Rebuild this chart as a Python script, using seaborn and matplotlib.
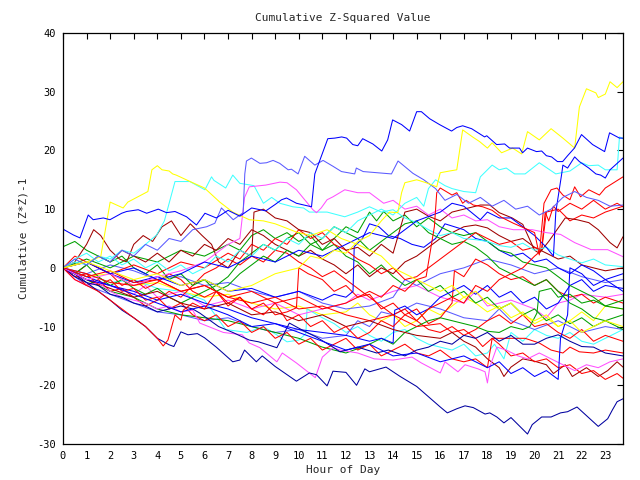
import matplotlib
matplotlib.use("Agg")
import matplotlib.pyplot as plt
import pandas as pd
import seaborn as sns

# ---------------- data: (hour, cumulative value) ----------------
blue_top = [(0,6.6),(0.44,5.6),(0.72,5.1),(1.07,9.0),(1.28,8.2),(1.71,8.5),(1.99,8.2),(2.49,9.3),(2.7,9.6),(3.19,9.9),(3.55,9.3),(4.04,10.0),(4.39,9.4),(4.75,9.6),(5.24,8.7),(5.66,7.3),(6.02,9.3),(6.5,8.5),(7.0,9.8),(7.5,8.8),(8.0,10.2),(8.6,9.7),(9.0,10.8),(9.27,11.6),(9.48,11.9),(9.9,11.0),(10.54,10.4),(10.68,16.0),(11.23,22.0),(11.53,22.1),(11.82,22.3),(12.03,22.1),(12.29,21.0),(12.5,20.8),(12.71,22.0),(13.14,21.1),(13.52,19.9),(13.77,21.8),(13.98,25.2),(14.36,24.4),(14.7,23.3),(15.0,26.6),(15.2,26.6),(15.55,25.4),(15.97,24.4),(16.48,23.3),(16.7,23.9),(16.95,24.2),(17.33,23.7),(17.88,22.3),(17.97,22.5),(18.39,21.0),(18.73,21.1),(18.94,20.4),(19.36,20.4),(19.49,19.6),(19.7,20.4),(20.08,19.8),(20.3,19.9),(20.5,19.1),(20.72,18.9),(20.97,18.1),(21.19,18.1),(21.4,19.1),(21.69,20.4),(21.99,22.7),(22.46,21.0),(22.97,19.8),(23.18,23.0),(23.6,22.1),(23.75,22.1)]
blue_mid = [(0,0),(0.5,1.5),(1,0.5),(1.5,2),(2,1),(2.5,3),(3,2),(3.5,4),(4,3),(4.5,5),(5,4.5),(5.5,6.5),(6.09,7),(6.44,7.6),(6.72,10.2),(7.22,8.2),(7.64,9.4),(7.71,16.0),(7.78,18.2),(7.99,18.7),(8.35,17.8),(8.63,17.9),(8.91,18.3),(9.19,17.8),(9.55,16.7),(9.69,16.8),(9.97,16.0),(10.25,19.0),(10.68,17.5),(11.03,18.3),(11.45,17.3),(11.81,16.4),(12.37,16.0),(12.44,17.0),(12.73,16.4),(13.93,16.0),(14.21,18.2),(14.84,16.1),(15.3,15),(15.8,13.5),(16.2,11.5),(16.7,12.5),(17.2,11),(17.7,12),(18.2,10.5),(18.7,11.5),(19.2,10),(19.7,10.5),(20.2,9),(20.7,10),(21.2,12),(21.7,13),(22.2,12),(22.7,11.5),(23.2,10.5),(23.75,10.7)]
blue_jump21 = [(0,0),(1,1),(2,-1),(3,0),(4,-2),(5,-1),(6,1),(7,0),(8,2),(9,1),(10,3),(11,2),(12,4),(13,6),(14,5),(15,8),(16,9.5),(16.5,11),(17,10.5),(17.7,8.2),(18,9.5),(18.5,8.5),(19,8.5),(19.5,7),(20,5.5),(20.5,3.5),(20.8,2),(20.9,9.5),(21.15,16),(21.2,17.5),(21.4,17),(21.7,18.9),(21.9,18.1),(22.3,17),(22.6,16),(22.8,15.8),(23.0,15.3),(23.2,16.7),(23.75,18.7)]
blue_jump14 = [(0,0),(1,-1.5),(2,-3),(3,-4),(4,-5.5),(5,-4.5),(6,-6),(7,-7),(8,-8.5),(9,-9.5),(10,-10.5),(11,-11),(12,-11.5),(13,-12.5),(13.5,-12),(14,-12.8),(14.07,-7.2),(14.5,-6.5),(15,-8),(15.5,-7),(16,-5),(16.5,-4),(17,-3),(17.5,-4.5),(18,-3),(18.5,-5),(19,-4),(19.5,-6),(20,-5),(20.5,-7),(21,-6),(21.5,-3),(22,-2),(22.5,-4),(23,-3),(23.75,-3.5)]
blue_late = [(0,0),(1,-2),(2,-3),(3,-4.5),(4,-6),(5,-7.5),(6,-6.5),(7,-8),(8,-10),(9,-9.5),(10,-11),(11,-12.5),(12,-14),(13,-13),(14,-15),(15,-14.5),(16,-16),(17,-15),(18,-17),(18.5,-16),(19,-18),(19.5,-17),(20,-18.5),(20.5,-17.5),(21,-19),(21.1,-12),(21.4,-8),(21.5,0),(22,-1),(22.5,-3),(23,-2),(23.75,-4)]
blue_step12 = [(0,0),(1,1),(2,-1),(3,-2.5),(4,-1.5),(5,-3),(6,-2),(7,-4),(8,-3.5),(9,-5),(10,-4),(11,-5.5),(11.5,-4.5),(12,-5),(12.3,-4),(12.35,3.6),(12.7,5),(13,7.5),(13.4,7),(13.8,5.5),(14.3,5),(14.8,4),(15.3,3.5),(15.8,5),(16.2,7.5),(16.6,7),(17,6.5),(17.5,5),(18,4.5),(18.5,3),(19,2),(19.5,2.5),(20,1),(20.5,1.5),(21,0),(21.5,-1),(22,0.5),(22.5,-0.5),(23,-2),(23.75,-1)]
mblue_2 = [(0,0),(1,-1),(2,0.5),(3,-0.5),(4,-2),(5,-1.5),(6,-3),(7,-2.5),(8,-4),(9,-5),(10,-4),(11,-6),(12,-7),(13,-6.5),(14,-5),(14.5,-2),(15,-3),(16,-1),(17,0),(18,1.5),(19,0.5),(20,-1),(21,0),(22,-1.5),(23,-2.5),(23.75,-2)]
mblue_3 = [(0,0),(1,-3),(2,-4.5),(3,-6),(4,-7.5),(5,-8),(6,-9),(7,-8.5),(8,-10),(9,-11),(10,-10.5),(11,-12),(12,-11.5),(12.5,-9),(13,-10),(13.5,-7.5),(14,-8),(15,-6),(16,-7),(17,-8.5),(18,-9),(18.5,-7),(19,-9),(20,-10.5),(21,-9),(22,-11),(23,-10),(23.75,-10.5)]
dblue_bottom = [(0,0),(0.5,-1.5),(1,-2.5),(1.5,-4),(2,-5.5),(2.5,-7.2),(3,-8.5),(3.5,-10),(4,-12),(4.5,-13.1),(4.7,-13.4),(5.0,-10.9),(5.3,-11.4),(5.7,-11.2),(6.0,-11.9),(6.5,-13.5),(7.2,-16),(7.5,-15.7),(7.7,-14),(8.2,-16),(8.45,-15),(9.0,-16.8),(9.9,-19.3),(10.45,-17.9),(10.75,-18.2),(11.2,-20.1),(11.45,-17.6),(12.0,-17.8),(12.45,-20),(12.8,-17.2),(13.0,-17.7),(13.7,-16.9),(14.3,-18.5),(15.0,-20.2),(16.0,-23.7),(16.3,-24.7),(16.7,-24),(17.05,-23.5),(17.4,-23.8),(17.9,-24.9),(18.1,-24.7),(18.4,-25.4),(18.7,-26.4),(19.0,-25.5),(19.7,-28.3),(19.9,-26.7),(20.3,-25.4),(20.7,-25.4),(21.1,-24.7),(21.4,-24.5),(21.8,-23.7),(22.7,-27),(23.1,-25.7),(23.3,-24.2),(23.5,-22.8),(23.75,-22.3)]
dblue_2 = [(0,0),(0.5,-1),(1,-2.5),(1.5,-3),(2,-4.5),(2.5,-5),(3,-6),(3.5,-6.5),(4,-7.5),(4.5,-7),(5,-6.5),(5.5,-7),(5.8,-7.7),(6.6,-10),(7.2,-11),(7.9,-12.3),(8.3,-12.6),(9.07,-13.6),(9.6,-9.4),(10.15,-10.6),(10.75,-11.8),(11.45,-13.5),(11.75,-14.3),(12.5,-13.5),(13.3,-14.5),(13.8,-14),(14.5,-15),(15,-14),(15.5,-13.5),(16,-12.5),(16.5,-13),(17,-11.5),(17.5,-12),(18,-11),(18.5,-12.5),(19,-11.5),(19.5,-13),(20,-13),(20.5,-12),(21,-11.4),(21.5,-12.5),(22,-13.4),(22.5,-13.5),(23,-14.5),(23.75,-15)]
yellow_17 = [(0,0),(0.5,0.5),(1.0,1.0),(1.6,1.9),(2.0,11.2),(2.55,10.2),(2.75,11.2),(3.6,13.0),(3.77,16.7),(4.0,17.4),(4.2,16.7),(4.5,16.5),(4.65,16.0),(4.8,15.8),(5.5,14.5),(6.0,13.6),(6.65,11.2),(7.2,9.5),(7.9,8.2),(8.5,8.0),(9.0,7.5),(9.9,6.1),(10.5,5.5),(11.2,6.5),(11.8,5.0),(12.5,4.0),(13.0,3.0),(13.5,2.0),(14.0,0.0),(14.5,-1.0),(15.0,-2.0),(15.5,-3.0),(16.0,-4.0),(16.5,-3.0),(17.0,-5.0),(17.5,-4.0),(18.0,-6.0),(18.5,-7.0),(19.0,-6.0),(19.5,-8.0),(20.0,-9.0),(20.5,-8.0),(21.0,-10.0),(21.5,-9.0),(22.0,-11.0),(22.5,-10.0),(23.0,-9.0),(23.75,-10.0)]
yellow_31 = [(0,0),(1,1),(2,-0.5),(3,-2),(4,-1),(5,-3),(6,-2),(7,-4),(8,-3),(9,-1),(10,0),(10.5,2),(11,1.5),(11.5,3),(12,2.5),(12.5,4.5),(13,5.5),(13.5,8),(13.85,9.5),(14.2,9.4),(14.36,12.8),(14.5,14.5),(15.0,15.0),(15.4,14.5),(15.85,13.8),(16.0,16.2),(16.4,16.5),(16.7,16.7),(16.95,23.5),(17.37,22.3),(17.67,21.5),(18.0,20.4),(18.2,21.3),(18.6,19.6),(19.07,20.4),(19.45,19.4),(19.7,23.2),(20.2,21.8),(20.7,23.7),(21.2,22.1),(21.7,20.4),(21.9,27.4),(22.2,30.5),(22.6,29.8),(22.7,29.0),(23.0,29.6),(23.2,31.7),(23.5,30.7),(23.75,31.7)]
yellow_low = [(0,0),(1,-1.5),(2,-1),(3,-3),(4,-2.5),(5,-4),(6,-5),(7,-4.5),(8,-6),(9,-7),(10,-6.5),(11,-8),(12,-7.5),(12.5,-6),(13,-8),(13.5,-9),(14,-8),(14.5,-10),(15,-9),(15.5,-7),(16,-8),(17,-5),(17.5,-6),(18,-7.5),(18.5,-6.5),(19,-8.5),(19.5,-7.5),(20,-9.5),(20.5,-8.5),(21,-10),(21.5,-9),(22,-7.5),(22.5,-9),(23,-6.5),(23.75,-7)]
cyan_a = [(0,0),(0.5,1),(1,0.5),(1.5,2),(2,1.5),(2.5,3),(3,2.5),(3.5,4),(3.97,5.6),(4.3,8),(4.75,14.7),(5.38,14.7),(6.02,13.3),(6.3,15.5),(6.4,14.9),(6.9,13.6),(7.2,15.8),(7.5,14.4),(8.1,14),(8.5,11),(8.85,12),(9.2,11),(9.75,10.4),(10.2,10.2),(10.45,9.5),(11.2,9.5),(11.95,8.7),(12.5,9.5),(13.0,10.4),(13.5,9.5),(14.0,9.9),(14.5,8.5),(15.0,7.7),(15.5,6.5),(16.0,5.5),(16.5,6.0),(17.0,5.0),(17.5,4.8),(18.0,4.5),(18.5,3.8),(19.0,3.5),(19.5,4.2),(20.0,3.0),(20.5,3.5),(21.0,2.2),(21.5,1.5),(22.0,0.85),(22.5,1.5),(23.0,0.5),(23.75,0.2)]
cyan_top = [(0,0),(0.5,1.5),(1,2.5),(1.5,1),(2,2),(2.5,0.5),(3,1.5),(3.5,0),(4,1),(4.5,-0.5),(5,0.5),(5.5,-1),(6,0),(6.5,2),(7,1),(7.5,3),(8,2),(8.5,4),(9,3),(9.5,5),(10,4),(10.5,6),(11,5),(11.5,7),(12,6),(12.5,8),(13,9),(13.5,10),(14,9),(14.5,11),(15,12),(15.3,10.5),(15.5,13.5),(15.8,15),(16.2,14),(16.5,13.5),(17,13),(17.5,12.8),(17.7,15.5),(18.2,17.5),(18.5,16.7),(18.8,17),(19.15,16),(19.6,16),(20.2,17.9),(20.9,16),(21.5,16.5),(22,17.9),(22.3,17.4),(22.7,17.5),(23.0,16.7),(23.5,16.7),(23.6,22.3),(23.75,22)]
cyan_low = [(0,0),(1,-1),(2,-2.5),(3,-2),(4,-3.5),(5,-4),(6,-5.5),(6.9,-10.5),(7.8,-11),(8.5,-10),(9.1,-11.5),(9.5,-12.6),(10.0,-12.3),(10.3,-11.2),(10.35,-7),(11,-8.5),(11.5,-9.5),(12,-11),(12.5,-10),(13,-11.5),(13.5,-12.5),(14,-11),(14.5,-10.5),(15,-12),(15.5,-13),(16,-13.5),(16.5,-14),(17,-13),(17.5,-15),(18,-14.5),(18.3,-13),(18.7,-15.5),(19,-11),(19.5,-12.5),(20,-10.5),(20.5,-11.5),(21,-12),(21.5,-11),(22,-12.5),(22.5,-13),(23,-12),(23.5,-11),(23.75,-10.5)]
mag_top = [(0,0),(1,-2),(2,-1),(3,-3),(4,-1.5),(5,-0.5),(6,1),(6.5,2.5),(7,4),(7.5,5),(7.7,12),(7.9,13.8),(8.6,14.1),(9.2,14.6),(9.5,14.5),(9.9,13.3),(10.6,9.9),(10.75,9.4),(10.95,10.2),(11.2,11.6),(11.45,12.1),(11.95,13.3),(12.5,12.8),(13.0,12.8),(13.6,11),(14,11.5),(14.5,10),(15,10.5),(15.5,9),(16,10),(16.5,8.5),(17,9),(17.5,8),(18.0,8.2),(18.5,7),(19.1,6.5),(19.9,6.5),(20.5,6),(21.1,5.7),(21.7,4.3),(22.4,3.1),(23.1,3.1),(23.75,1.9)]
mag_low = [(0,0),(0.5,-2),(1,-3),(1.5,-2.5),(2,-4),(2.5,-5),(3,-5.5),(3.5,-6),(4,-7),(4.5,-6.5),(5,-7.5),(5.5,-7.2),(5.8,-9.4),(6.8,-11),(7.6,-11.4),(7.9,-12.8),(8.35,-13.6),(9.07,-16),(9.3,-14.5),(9.9,-16.2),(10.7,-18.7),(11.0,-15.2),(11.45,-13.6),(11.75,-14),(12.5,-14.5),(13.2,-15.5),(14.0,-15.7),(14.8,-15.2),(15.2,-16.2),(16.0,-17.9),(16.2,-16),(16.75,-17.7),(17.05,-16.5),(17.6,-17.2),(17.9,-17.7),(18.0,-19.6),(18.1,-16.9),(18.4,-13.5),(18.8,-14),(19.3,-15),(19.7,-15.5),(20.2,-14.5),(20.7,-15.5),(21.2,-16.5),(21.7,-17.5),(22.2,-16.5),(22.7,-17),(23.2,-16),(23.75,-15.5)]
mag_mid = [(0,0),(1,-2),(2,-3),(3,-4.5),(3.5,-3),(4,-5),(5,-4),(6,-6.5),(7,-5.5),(8,-7),(9,-6),(10,-8),(11,-7),(12,-6),(12.5,-4.5),(13,-5.5),(14,-4),(15,-3),(16,-5),(17,-6),(17.5,-4),(18,-6.5),(19,-5.5),(20,-7),(20.5,-8.5),(21,-6),(21.5,-5.5),(22,-4.5),(23,-5),(23.75,-4.5)]
red_up = [(0,0),(1,-1),(2,-2.5),(3,-3),(4,-2),(5,-4),(6,-3),(7,-5),(8,-4),(9,-6),(10,-5),(11,-7),(12,-6),(13,-4),(13.5,-5),(14,-3),(14.5,-4),(15,-2),(15.4,-1.5),(15.75,7),(15.85,12.8),(16,13.6),(16.5,12.4),(16.7,12.8),(16.95,11),(17.1,11.5),(17.4,10.7),(17.8,10.4),(18.2,9.8),(18.6,8.6),(19.1,7.6),(19.5,6.9),(20.0,6),(20.2,2.2),(20.4,11),(20.7,13.3),(20.95,13.6),(21.2,12.4),(21.5,11.6),(21.7,13.8),(21.95,12.1),(22.3,13.3),(22.75,12.4),(23.0,13.6),(23.75,15.5)]
red_mid = [(0,0),(1,1),(2,-1),(3,0.5),(4,-1),(5,1),(6,0),(7,2.5),(7.5,1.5),(8,4),(8.5,3),(9,5),(9.5,4),(10,6.5),(10.5,5),(11,6),(11.5,4),(12,3),(12.5,1.5),(13,0.5),(13.5,-1),(14,0),(14.5,-2),(15,-1.5),(15.5,0),(16,1.5),(16.5,3),(17,4.5),(17.5,6),(18,5),(18.5,4),(19,4.5),(19.5,3),(20,3.5),(20.3,3),(20.45,9.5),(20.6,8),(20.8,10.5),(21,9.6),(21.5,11),(22,10),(22.5,11.5),(23,10),(23.5,11),(23.75,10.4)]
red_dip = [(0,0),(0.5,-2),(1,-3),(1.5,-4),(2,-5.5),(2.5,-7),(3,-8.5),(3.5,-10),(4.0,-12),(4.25,-13.3),(4.45,-12.3),(4.75,-8),(5.0,-8.9),(5.1,-7.2),(5.5,-6),(6,-7),(6.5,-4),(7,-6),(7.5,-5),(8,-7),(8.5,-8),(9,-6),(9.5,-9),(10,-8),(10.5,-10),(11,-9),(11.5,-11),(12,-10),(12.5,-12),(13,-11),(13.5,-9),(14,-10),(14.5,-8),(15,-9),(15.5,-7),(16,-6),(16.5,-5),(17,-6),(17.5,-3),(18,-4),(18.5,-2),(19,-1),(19.5,0),(20,2),(20.3,3),(20.5,9.5),(21,10),(21.5,8),(22,9),(22.5,8.5),(23,9.5),(23.75,10.5)]
red_jump10 = [(0,0),(0.5,2),(1,1),(1.5,0),(2,-1),(2.5,-3),(3,-2),(3.5,-3.5),(4,-2.5),(4.5,-1),(5,-2),(5.5,-4),(6,-5),(6.5,-4),(7,-6.5),(7.5,-5),(8,-7),(8.5,-6),(9,-8),(9.5,-7.5),(9.9,-6.8),(10,0),(10.4,-1),(11,-2),(11.5,-4),(12,-3),(12.5,-5),(13,-4.5),(13.5,-7),(14,-6),(14.5,-8),(15,-7),(15.5,-9.5),(16,-8.5),(16.5,-6),(16.6,-0.5),(17,-1.5),(17.5,1.5),(18,0.5),(18.5,-1),(19,-2),(19.5,-1.5),(20,-3),(20.5,-2),(21,-4),(21.5,-5),(22,-4.5),(22.5,-6),(23,-5),(23.75,-6)]
red_fall = [(0,0),(0.5,-1),(1,-3),(1.5,-2),(2,-4),(2.5,-3.5),(3,-5),(3.5,-6.5),(4,-5.5),(4.5,-4),(5,-5),(5.5,-3),(6,-1),(6.5,0),(7,1.5),(7.5,0.5),(8,2),(8.5,1),(9,3),(9.5,2.5),(10,1),(10.5,0),(11,-1.5),(11.5,-0.5),(12,-2),(12.5,-3.5),(13,-5),(13.5,-6.5),(14,-8),(14.5,-7),(15,-9),(15.5,-10.5),(16,-11),(16.5,-10),(17,-11.5),(17.5,-10.5),(18,-9),(18.5,-8),(19,-9.5),(19.5,-8),(20,-10),(20.5,-9.5),(21,-11),(21.5,-12),(22,-10.5),(22.5,-12.5),(23,-11.5),(23.75,-12.5)]
red_low = [(0,0),(0.5,-1.5),(1,-1),(1.5,-3),(2,-2),(2.5,-4),(3,-3.5),(3.5,-5.5),(4,-5),(4.5,-7),(5,-6),(5.5,-8),(6,-9),(6.5,-8),(7,-10),(7.5,-9),(8,-11),(8.5,-10),(9,-12),(9.5,-11),(10,-13),(10.5,-12),(11,-14),(11.5,-13),(12,-12),(12.5,-14),(13,-13),(13.5,-15),(14,-14),(14.5,-13),(15,-14.5),(15.5,-15),(16,-14),(16.5,-15.5),(17,-16),(17.5,-15.5),(18,-17),(18.2,-12),(18.5,-13),(19,-15),(19.5,-14.5),(20,-16),(20.5,-15.5),(21,-17),(21.5,-16.5),(22,-18),(22.5,-17.5),(23,-19),(23.5,-18),(23.75,-18.8)]
red_m14 = [(0,0),(1,-1.5),(2,-0.5),(3,-2.5),(4,-2),(5,-4),(6,-3),(7,-5),(8,-6),(9,-5),(10,-7),(11,-6.5),(12,-8),(13,-9),(14,-8),(15,-10),(16,-9.5),(16.5,-11),(17,-10.5),(17.5,-12),(17.8,-13.4),(18.2,-12),(19.6,-12),(20.2,-12.8),(20.7,-14),(21.2,-14.5),(21.5,-13.5),(21.9,-14.3),(22.5,-14.5),(23.0,-14),(23.75,-14.5)]
dred_1 = [(0,0),(0.5,1),(1,4),(1.3,6.5),(1.6,5.5),(2,3),(2.4,1.5),(2.7,1),(3,4),(3.4,5.5),(3.8,4.5),(4.2,7),(4.6,8),(5,5.5),(5.4,7.5),(5.9,5.5),(6.3,4),(6.6,1),(7,0),(7.5,3),(8,2),(8.1,9.5),(8.5,10),(9,8.5),(9.5,8),(10,6.5),(10.5,6),(11,4),(11.5,5),(12,3),(12.5,3.5),(13,2),(13.5,4),(14,2.5),(14.5,9.5),(15,10),(15.5,8.8),(16,8),(16.5,9.5),(17,10),(17.7,10.7),(18.1,10.7),(18.5,9.4),(19.05,8.5),(19.5,7.4),(20,3),(20.2,2.5),(20.6,4.5),(21.3,8.5),(21.8,8.2),(22.3,7.7),(22.7,6.5),(23.2,4.3),(23.5,3.4),(23.75,5.3)]
dred_2 = [(0,0),(0.5,-1),(1,0.5),(1.5,2),(2,1),(2.5,3),(3,2),(3.5,1),(4,2.5),(4.5,1),(5,3),(5.5,2),(6,4),(6.5,3),(7,5),(7.5,4),(8,6.5),(8.5,5.5),(9,4),(9.5,3),(10,2),(10.5,3),(11,1.5),(11.5,0.5),(12,-1),(12.5,0.5),(13,-1.5),(13.5,0),(14,-1),(14.5,1),(15,2),(15.5,3.5),(16,5),(16.5,6),(17,7),(17.5,7.3),(18,6.8),(18.5,5.5),(19,4.5),(19.5,5),(20,3.5),(20.5,2.5),(21,1.5),(21.5,2),(22,0.5),(22.5,0),(23,-0.5),(23.75,0)]
dred_low = [(0,0),(1,-2),(2,-3.5),(3,-5),(4,-4),(5,-6),(6,-7),(7,-6),(8,-8),(9,-7.5),(10,-9),(11,-8),(12,-10),(13,-9),(14,-10.5),(15,-11.5),(16,-12),(16.5,-11),(17,-12.5),(17.5,-13.5),(18,-15.5),(18.5,-17),(18.7,-18.5),(19,-16.9),(19.5,-15.5),(20,-15.9),(20.5,-16.5),(20.8,-18),(21.3,-16.5),(21.6,-18.5),(22.2,-17),(22.7,-18.5),(23.1,-17.5),(23.5,-16),(23.75,-16.9)]
green_1 = [(0,3.6),(0.5,4.5),(1,3),(1.5,2),(2,1),(2.5,2),(3,0),(3.5,-1),(4,0.5),(4.5,-2),(5,-1),(5.5,-3),(6,-2),(6.5,-4),(7,-3),(7.5,-1),(8,0.5),(8.5,2),(9,1),(9.5,3),(10,2),(10.5,4),(11,3),(11.5,5),(12,7),(12.5,6),(13,9.5),(13.3,8),(13.6,9.6),(14,8),(14.5,9),(15,7),(15.5,8.5),(16,7),(16.5,6),(17,5.5),(17.5,6),(18,4.5),(18.5,3),(19,2.5),(19.5,1),(20,0.5),(20.5,0),(21,-1.5),(21.5,-3),(22,-4),(22.5,-5),(23,-6.5),(23.75,-7)]
green_2 = [(0,0),(0.5,-1),(1,0.5),(1.5,-1.5),(2,-3),(2.5,-2),(3,-3.5),(3.5,-4.5),(4,-3.5),(4.5,-5),(5,-6),(5.5,-5),(6,-4),(6.5,-3),(7,-1.5),(7.5,1),(8,2.5),(8.5,4),(9,3),(9.5,5),(10,6),(10.5,4),(11,5),(11.5,7),(12,6),(12.5,5),(13,3),(13.5,4.5),(14,6),(14.5,7.5),(15,8),(15.5,6),(16,5),(16.5,4),(17,4.5),(17.5,3.5),(18,2),(18.5,0),(19,-1),(19.5,-2),(20,-3),(20.5,-2),(21,-4),(21.5,-6),(22,-7),(22.5,-8.5),(23,-9),(23.75,-10.5)]
green_3 = [(0,0),(1,-2),(2,-4),(3,-5),(4,-7),(5,-8),(6,-8.5),(7,-9),(8,-10),(9,-11),(10,-12),(11,-13.5),(12,-14.5),(13,-13),(13.5,-12),(14,-13),(14.5,-11),(15,-10),(15.5,-9),(16,-8.5),(16.5,-9),(17,-9.5),(17.5,-10),(18,-10.8),(18.5,-11),(19,-10),(19.5,-10.5),(19.8,-10),(20.1,-7.7),(20.2,-4),(20.7,-3.5),(21,-5),(21.5,-4.5),(22,-6),(22.5,-5.5),(23,-6.5),(23.75,-5.5)]
green_4 = [(0,0),(1,1.5),(2,0),(3,2),(4,1),(5,3),(6,2),(7,4),(7.5,3),(8,5.5),(8.5,6.5),(9,5),(9.5,6),(10,4.5),(10.5,5.5),(11,3),(11.5,4),(12,2),(12.5,1),(13,-1),(13.5,0.5),(14,-1.5),(14.5,-3),(15,-2),(15.5,-4),(16,-3),(16.5,-5),(17,-4),(17.5,-6),(18,-5),(18.5,-7),(19,-6),(19.5,-8),(20,-7),(20.5,-9),(21,-8),(21.5,-9.5),(22,-8.5),(22.5,-10),(23,-9),(23.75,-8)]

# tick labels and texts
x_ticks = list(range(0, 24))
y_ticks = [-30, -20, -10, 0, 10, 20, 30, 40]
title_text = "Cumulative Z-Squared Value"
x_label = "Hour of Day"
y_label = "Cumulative (Z*Z)-1"

# ---------------- styles ----------------
RED, DRED, GREEN = "#ff0000", "#a00000", "#00a000"
BLUE, MBLUE, DBLUE = "#0000ff", "#5a5aff", "#0000a0"
MAG, CYAN, YEL = "#ff50ff", "#40ffff", "#ffff00"

series = [
    ("yellow_low", yellow_low, YEL), ("cyan_low", cyan_low, CYAN),
    ("mag_mid", mag_mid, MAG), ("mblue_3", mblue_3, MBLUE), ("mblue_2", mblue_2, MBLUE),
    ("green_4", green_4, GREEN), ("red_fall", red_fall, RED), ("red_jump10", red_jump10, RED),
    ("dred_2", dred_2, DRED), ("green_3", green_3, GREEN), ("blue_jump14", blue_jump14, BLUE),
    ("blue_step12", blue_step12, BLUE), ("green_2", green_2, GREEN), ("red_m14", red_m14, RED),
    ("dred_low", dred_low, DRED), ("red_low", red_low, RED), ("mag_low", mag_low, MAG),
    ("dblue_2", dblue_2, DBLUE), ("dblue_bottom", dblue_bottom, DBLUE), ("blue_late", blue_late, BLUE),
    ("green_1", green_1, GREEN), ("red_dip", red_dip, RED), ("red_mid", red_mid, RED),
    ("dred_1", dred_1, DRED), ("cyan_a", cyan_a, CYAN), ("mag_top", mag_top, MAG),
    ("cyan_top", cyan_top, CYAN), ("blue_jump21", blue_jump21, BLUE), ("yellow_17", yellow_17, YEL),
    ("red_up", red_up, RED), ("blue_mid", blue_mid, MBLUE), ("yellow_31", yellow_31, YEL),
    ("blue_top", blue_top, BLUE),
]

rows = []
for name, pts, _ in series:
    for i, (h, v) in enumerate(pts):
        rows.append({"series": name, "idx": i, "hour": h, "value": v})
df = pd.DataFrame(rows)
palette = {name: col for name, _, col in series}

sns.set_theme(style="white")
plt.rcParams["font.family"] = ["DejaVu Sans Mono"]

fig = plt.figure(figsize=(6.4, 4.8), dpi=100)
ax = fig.add_axes([63/640, 1 - 444/480, 560/640, 411/480])

sns.lineplot(data=df, x="hour", y="value", hue="series", palette=palette,
             hue_order=[s[0] for s in series], estimator=None, sort=False,
             legend=False, linewidth=0.75, ax=ax)

ax.set_xlim(0, 23.75)
ax.set_ylim(-30, 40)
ax.set_xticks(x_ticks)
ax.set_xticklabels([str(t) for t in x_ticks])
ax.set_yticks(y_ticks)
ax.set_yticklabels([str(t) for t in y_ticks])
ax.tick_params(direction="in", top=True, right=True, length=4.5, width=0.8,
               labelsize=7.5, colors="black", pad=5)
for sp in ax.spines.values():
    sp.set_color("black")
    sp.set_linewidth(0.9)
ax.set_xlabel(x_label, fontsize=8, labelpad=3)
ax.set_ylabel(y_label, fontsize=8, labelpad=6)
ax.set_title(title_text, fontsize=8, pad=9)
ax.grid(False)

fig.savefig("out.png", dpi=100, facecolor="white")
